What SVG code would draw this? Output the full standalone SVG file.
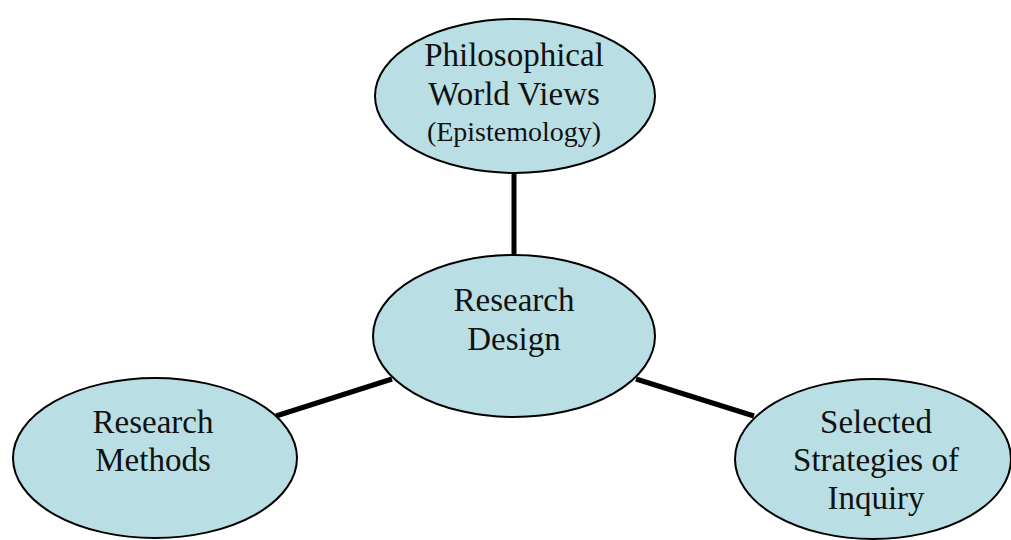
<svg xmlns="http://www.w3.org/2000/svg" width="1011" height="540" viewBox="0 0 1011 540">
<style>
.node ellipse{fill:#b9dfe4;stroke:#000;stroke-width:2}
.node text{font-family:"Liberation Serif","Times New Roman",serif;font-size:33px;fill:#111;text-anchor:middle}
.node text.small{font-size:28px}
.edges line{stroke:#000;stroke-width:5}
</style>
<rect width="1011" height="540" fill="#fff"/>
<g class="edges">
<line x1="514" y1="170" x2="514" y2="258"/>
<line x1="276" y1="416" x2="392" y2="379"/>
<line x1="636" y1="379" x2="754" y2="416"/>
</g>
<g id="worldviews" class="node">
<ellipse cx="515" cy="96" rx="140" ry="77"/>
<text x="514" y="66">Philosophical</text>
<text x="514" y="105">World Views</text>
<text class="small" x="514" y="141">(Epistemology)</text>
</g>
<g id="design" class="node">
<ellipse cx="514" cy="336" rx="141" ry="81"/>
<text x="514" y="311">Research</text>
<text x="514" y="350">Design</text>
</g>
<g id="methods" class="node">
<ellipse cx="155" cy="458" rx="142" ry="80"/>
<text x="153" y="433">Research</text>
<text x="153" y="471">Methods</text>
</g>
<g id="strategies" class="node">
<ellipse cx="873" cy="459" rx="138" ry="80"/>
<text x="876" y="433">Selected</text>
<text x="876" y="471">Strategies of</text>
<text x="876" y="509">Inquiry</text>
</g>
</svg>
